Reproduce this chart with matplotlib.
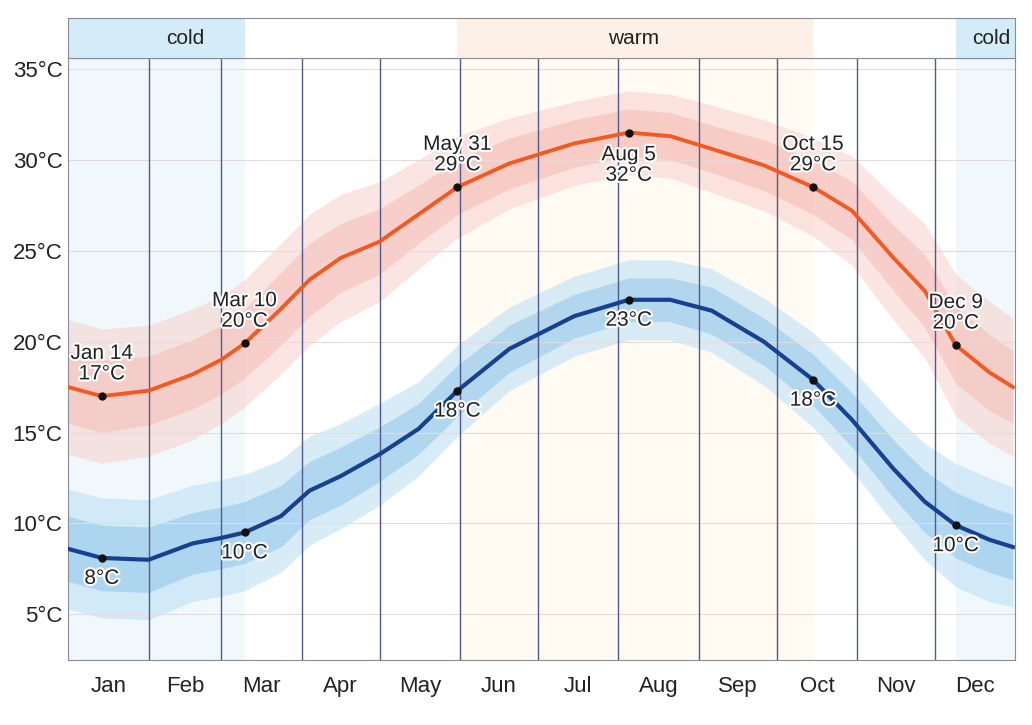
import numpy as np
import matplotlib.pyplot as plt
import matplotlib.patheffects as pe

plt.rcParams['font.family'] = ['Liberation Sans', 'DejaVu Sans']

# day of year (0 = Jan 1) for the read-off anchor points
days = [0, 13, 31, 48, 59, 68, 82, 93, 105, 120, 135, 150, 170, 195, 216,
        232, 248, 268, 287, 302, 318, 330, 342, 355, 364]
high = [17.5, 17.0, 17.3, 18.2, 19.0, 19.9, 21.8, 23.4, 24.6, 25.5, 27.0, 28.5,
        29.8, 30.9, 31.5, 31.3, 30.6, 29.7, 28.5, 27.2, 24.6, 22.8, 19.8, 18.3, 17.5]
low = [8.6, 8.1, 8.0, 8.9, 9.2, 9.5, 10.4, 11.8, 12.6, 13.8, 15.2, 17.3,
       19.6, 21.4, 22.3, 22.3, 21.7, 20.0, 17.9, 15.7, 13.0, 11.2, 9.9, 9.1, 8.7]
# half widths of the 10-90 and 25-75 percentile bands
high_outer = [3.7, 3.7, 3.6, 3.6, 3.5, 3.5, 3.6, 3.6, 3.5, 3.3, 3.0, 2.8, 2.5,
              2.3, 2.3, 2.3, 2.4, 2.5, 2.7, 3.0, 3.4, 3.7, 3.9, 3.9, 3.8]
high_inner = [2.0, 2.0, 1.9, 1.9, 1.9, 1.9, 2.0, 2.0, 1.9, 1.8, 1.6, 1.5, 1.4,
              1.3, 1.3, 1.3, 1.3, 1.4, 1.5, 1.6, 1.8, 2.0, 2.1, 2.1, 2.0]
low_outer = [3.3, 3.3, 3.3, 3.2, 3.2, 3.2, 3.1, 3.0, 2.9, 2.8, 2.6, 2.5, 2.3,
             2.2, 2.2, 2.2, 2.3, 2.4, 2.6, 2.8, 3.0, 3.2, 3.4, 3.4, 3.3]
low_inner = [1.8, 1.8, 1.8, 1.7, 1.7, 1.7, 1.7, 1.6, 1.6, 1.5, 1.4, 1.4, 1.3,
             1.2, 1.2, 1.2, 1.3, 1.3, 1.4, 1.5, 1.6, 1.7, 1.8, 1.8, 1.8]

# labelled points: (day, temperature, text)
high_marks = [(13, 17.0, 'Jan 14\n17°C'), (68, 19.9, 'Mar 10\n20°C'),
              (150, 28.5, 'May 31\n29°C'), (216, 31.5, 'Aug 5\n32°C'),
              (287, 28.5, 'Oct 15\n29°C'), (342, 19.8, 'Dec 9\n20°C')]
low_marks = [(13, 8.1, '8°C'), (68, 9.5, '10°C'), (150, 17.3, '18°C'),
             (216, 22.3, '23°C'), (287, 17.9, '18°C'), (342, 9.9, '10°C')]

months = ['Jan', 'Feb', 'Mar', 'Apr', 'May', 'Jun', 'Jul', 'Aug', 'Sep', 'Oct', 'Nov', 'Dec']
month_start = [0, 31, 59, 90, 120, 151, 181, 212, 243, 273, 304, 334, 365]
yticks = [5, 10, 15, 20, 25, 30, 35]

# seasons (day ranges)
cold_season = [(0, 68), (342, 365)]
warm_season = [(150, 287)]

fig = plt.figure(figsize=(10.32, 7.25), dpi=100)
ax = fig.add_axes([0.066, 0.09, 0.918, 0.83])
strip = fig.add_axes([0.066, 0.92, 0.918, 0.055])

for a, b in cold_season:
    ax.axvspan(a, b, color='#f0f8fc', zorder=0, lw=0)
    strip.axvspan(a, b, color='#d3ecf7', lw=0)
for a, b in warm_season:
    ax.axvspan(a, b, color='#fffaf2', zorder=0, lw=0)
    strip.axvspan(a, b, color='#fdf0e6', lw=0)

strip.text(45, 0.5, 'cold', ha='center', va='center', fontsize=15, color='#222222')
strip.text(218, 0.5, 'warm', ha='center', va='center', fontsize=15, color='#222222')
strip.text(363, 0.5, 'cold', ha='right', va='center', fontsize=15, color='#222222')
strip.set_xlim(0, 365)
strip.set_ylim(0, 1)
strip.set_xticks([])
strip.set_yticks([])
for s in strip.spines.values():
    s.set_color('#8a8a9a')
    s.set_linewidth(0.8)

# bands
d = np.array(days)
h = np.array(high)
l = np.array(low)
ax.fill_between(d, h - np.array(high_outer), h + np.array(high_outer),
                color='#f8d0cb', alpha=0.55, lw=0, zorder=1)
ax.fill_between(d, h - np.array(high_inner), h + np.array(high_inner),
                color='#f4b3ab', alpha=0.45, lw=0, zorder=1)
ax.fill_between(d, l - np.array(low_outer), l + np.array(low_outer),
                color='#bfe0f4', alpha=0.6, lw=0, zorder=1)
ax.fill_between(d, l - np.array(low_inner), l + np.array(low_inner),
                color='#8cc3ea', alpha=0.5, lw=0, zorder=1)

# grid
for t in yticks:
    ax.axhline(t, color='#e8dada', lw=0.8, zorder=1.5)
for m in month_start[1:-1]:
    ax.axvline(m, color='#505a8c', lw=1.0, zorder=2)

ax.plot(days, high, color='#f15a22', lw=2.8, zorder=3)
ax.plot(days, low, color='#17408e', lw=3.0, zorder=3)

halo = [pe.withStroke(linewidth=3, foreground='white')]
for x, y, txt in high_marks:
    ax.plot(x, y, 'o', color='#111111', ms=5, zorder=4)
    if txt.startswith('Aug'):
        ax.text(x, y - 0.7, txt, ha='center', va='top', fontsize=15,
                color='#222222', linespacing=1.1, zorder=5, path_effects=halo)
    else:
        ax.text(x, y + 0.7, txt, ha='center', va='bottom', fontsize=15,
                color='#222222', linespacing=1.1, zorder=5, path_effects=halo)
for x, y, txt in low_marks:
    ax.plot(x, y, 'o', color='#111111', ms=5, zorder=4)
    ax.text(x, y - 0.6, txt, ha='center', va='top', fontsize=15,
            color='#222222', zorder=5, path_effects=halo)

ax.set_xlim(0, 365)
ax.set_ylim(2.5, 35.6)
ax.set_yticks(yticks)
ax.set_yticklabels([f'{t}°C' for t in yticks])
mid = [(month_start[i] + month_start[i + 1]) / 2 for i in range(12)]
ax.set_xticks(mid)
ax.set_xticklabels(months)
ax.tick_params(length=0, labelsize=16, labelcolor='#222222')
ax.tick_params(axis='x', pad=12)
ax.tick_params(axis='y', pad=4)
for s in ax.spines.values():
    s.set_color('#8a8a9a')
    s.set_linewidth(0.8)

fig.savefig('out.png', dpi=100, facecolor='white')
